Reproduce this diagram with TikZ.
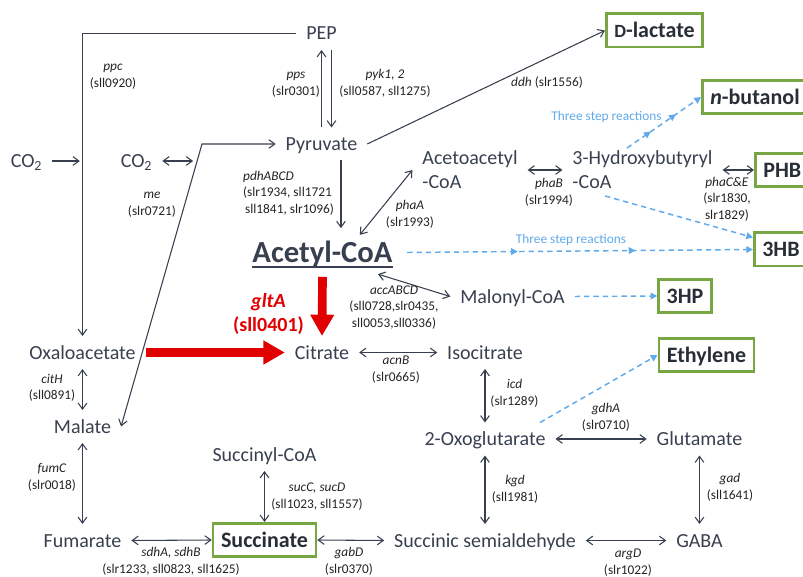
\documentclass[tikz,border=0pt]{standalone}
\usepackage{fontspec}
\setmainfont{Carlito}
\usetikzlibrary{arrows.meta,calc,decorations.markings}

\definecolor{txtgray}{RGB}{56,64,80}
\definecolor{genegray}{RGB}{35,35,35}
\definecolor{prodgray}{RGB}{40,46,56}
\definecolor{boxgreen}{RGB}{120,166,66}
\definecolor{flowblue}{RGB}{95,170,235}
\definecolor{gltred}{RGB}{225,0,0}

\newcommand{\ulinetext}[1]{\setbox0\hbox{#1}\rlap{\raisebox{-4.6pt}{\rule{\wd0}{1.5pt}}}\box0}

\tikzset{
  met/.style={text=txtgray, font=\fontsize{15}{18}\selectfont, inner sep=0pt, outer sep=7.5pt, text height=9.75pt, text depth=0pt},
  met2/.style={text=txtgray, font=\fontsize{15}{18}\selectfont, inner sep=0pt, outer sep=7.5pt, align=left},
  acetyl/.style={text=txtgray, font=\fontsize{23}{26}\selectfont\bfseries, inner sep=0pt, outer sep=11pt, text height=14.5pt, text depth=0pt},
  prod/.style={draw=boxgreen, line width=2pt, text=prodgray, font=\fontsize{16.5}{18}\selectfont\bfseries, inner xsep=6pt, inner ysep=0pt, minimum height=25pt, text height=10.6pt, text depth=0pt},
  prodcut/.style={prod, anchor=west, align=left, text width=#1},
  gene/.style={text=genegray, font=\fontsize{10}{12.5}\selectfont, align=center, inner sep=0pt},
  gltlab/.style={text=gltred, font=\fontsize{15}{18}\selectfont\bfseries, align=center, inner sep=0pt},
  steps/.style={text=flowblue, font=\fontsize{10}{12}\selectfont, inner sep=0pt},
  rxn/.style={draw=txtgray, line width=0.8pt, ->},
  rxn2/.style={draw=txtgray, line width=0.8pt, <->},
  flow/.style={draw=flowblue, line width=1.1pt, dash pattern=on 4pt off 3pt, -{Triangle[length=5pt,width=5pt]}},
  midtips/.style={postaction={decorate}, decoration={markings,
    mark=at position 0.32 with {\arrow{Triangle[length=5pt,width=5pt]}},
    mark=at position 0.66 with {\arrow{Triangle[length=5pt,width=5pt]}}}},
  bigred/.style={draw=gltred, line width=6.5pt, -{Triangle[length=16pt,width=17pt]}}
}

\begin{document}
\begin{tikzpicture}[x=0.75pt,y=-0.75pt,>={Straight Barb[length=4.5pt,width=6.5pt]}]
\useasboundingbox (0,0) rectangle (803,577);
% metabolites
\node[met] (pep) at (321.5,33.5) {PEP};
\node[met] (pyr) at (321.5,144) {Pyruvate};
\node[met] (co2a) at (26.5,161) {CO\textsubscript{2}};
\node[met] (co2b) at (136.5,161) {CO\textsubscript{2}};
\node[met2] (aca) at (470,170) {Acetoacetyl\\-CoA};
\node[met2] (hbc) at (642.5,170) {3-Hydroxybutyryl\\-CoA};
\node[acetyl] (acoa) at (322.5,252.5) {\ulinetext{Acetyl-CoA}};
\node[met] (malc) at (512.5,296.5) {Malonyl-CoA};
\node[met] (oxa) at (82.5,352.5) {Oxaloacetate};
\node[met] (cit) at (322,352.5) {Citrate};
\node[met] (iso) at (485,352.5) {Isocitrate};
\node[met] (mala) at (82.5,426.5) {Malate};
\node[met] (oxg) at (485,439) {2-Oxoglutarate};
\node[met] (glu) at (699.5,439) {Glutamate};
\node[met] (scoa) at (264.5,454.5) {Succinyl-CoA};
\node[met] (fum) at (82.5,540.5) {Fumarate};
\node[met] (ssa) at (485,540.5) {Succinic semialdehyde};
\node[met] (gaba) at (699.5,540.5) {GABA};
% products
\node[prod] (dlac) at (654.5,30.5) {{\fontsize{14}{14}\selectfont D}-lactate};
\node[prodcut=80pt] (nbut) at (701,97) {\textit{n}-butanol};
\node[prodcut=50pt] (phb) at (754,170) {PHB};
\node[prodcut=50pt] (hb3) at (753,249.5) {3HB};
\node[prod] (hp3) at (685,296) {3HP};
\node[prod] (eth) at (706.5,355) {Ethylene};
\node[prod] (suc) at (264.5,540) {Succinate};

% PEP and pyruvate
\draw[rxn] (pep.west) -| (oxa.north);
\draw[rxn,shorten >=2pt] (co2a.east) -- (co2a.east -| oxa.north);
\draw[rxn] (pyr.north) -- (pep.south);
\draw[rxn] ([xshift=7.5pt]pep.south) -- ([xshift=7.5pt]pyr.north);
\draw[rxn] (pyr.east) -- (dlac.west);
\coordinate (pdhtop) at ([xshift=14.6pt]pyr.south);
\draw[rxn] (pdhtop) -- (pdhtop |- acoa.north);
% malic enzyme
\coordinate (mecorner) at (202,144);
\coordinate (mejoin) at ($(mecorner)!0.06!(mala.east)$);
\draw[rxn2] (pyr.west) -- (mecorner) -- (mala.east);
\draw[rxn2,shorten >=3pt] (co2b.east) -- (co2b.east -| mejoin);
% acetyl-CoA branches
\draw[rxn2] ([xshift=28pt,yshift=-5pt]acoa.north) -- (aca.west);
\draw[rxn2] (aca.east) -- (hbc.west);
\draw[rxn2] (hbc.east) -- (phb.west);
\draw[rxn2] ([xshift=41.6pt,yshift=2pt]acoa.south) -- (malc.west);
\draw[flow,midtips] (acoa.east) -- (hb3.west);
\draw[flow,midtips] ([xshift=-11.6pt,yshift=-5.25pt]hbc.north) -- (nbut.west);
\draw[flow] ([xshift=-28pt,yshift=2.25pt]hbc.south) -- ([yshift=-4.5pt]hb3.north west);
\draw[flow] (malc.east) -- (hp3.west);
\draw[flow] ([xshift=-11.6pt]oxg.north east) -- (eth.west);
% TCA and GABA shunt
\draw[bigred] (acoa.south) -- (cit.north);
\draw[bigred] (oxa.east) -- (cit.west);
\draw[rxn2] (cit.east) -- (iso.west);
\draw[rxn2] (iso.south) -- (oxg.north);
\draw[rxn2] (oxg.east) -- (glu.west);
\draw[rxn2] (oxg.south) -- (ssa.north);
\draw[rxn2] (glu.south) -- (gaba.north);
\draw[rxn2] (ssa.east) -- (gaba.west);
\draw[rxn2] (suc.east) -- (ssa.west);
\draw[rxn2] (fum.east) -- (suc.west);
\draw[rxn2] (scoa.south) -- (suc.north);
\draw[rxn2] (oxa.south) -- (mala.north);
\draw[rxn2] (mala.south) -- (fum.north);

% enzyme labels
\node[gene] (ppcl) at (113,77) {\textit{ppc}\\(sll0920)};
\node[gene] (ppsl) at (296,85) {\textit{pps}\\(slr0301)};
\node[gene] (pykl) at (385,83) {\textit{pyk1, 2}\\(sll0587, sll1275)};
\node[gene] (ddhl) at (547,83) {\textit{ddh} (slr1556)};
\node[gene] (mel) at (152,205) {\textit{me}\\(slr0721)};
\node[gene,align=left] (pdhl) at (288.5,193) {\textit{pdhABCD}\\(slr1934, sll1721\\\hspace{1.5pt}sll1841, slr1096)};
\node[gene] (phaal) at (410,214) {\textit{phaA}\\(slr1993)};
\node[gene] (phabl) at (549,192) {\textit{phaB}\\(slr1994)};
\node[gene] (phacl) at (727,199) {\textit{phaC\&E}\\(slr1830,\\slr1829)};
\node[gene] (accl) at (394,307.5) {\textit{accABCD}\\(sll0728,slr0435,\\sll0053,sll0336)};
\node[gltlab] (gltl) at (268.5,314) {\textit{gltA}\\(sll0401)};
\node[gene] (acnl) at (396,369.5) {\textit{acnB}\\(slr0665)};
\node[gene] (icdl) at (514.5,393) {\textit{icd}\\(slr1289)};
\node[gene] (gdhl) at (606,417) {\textit{gdhA}\\(slr0710)};
\node[gene] (kgdl) at (515,489.5) {\textit{kgd}\\(sll1981)};
\node[gene] (gadl) at (730,487) {\textit{gad}\\(sll1641)};
\node[gene] (argl) at (628,562.5) {\textit{argD}\\(slr1022)};
\node[gene] (gabl) at (349,561) {\textit{gabD}\\(slr0370)};
\node[gene] (sdhl) at (171,561.5) {\textit{sdhA, sdhB}\\(slr1233, sll0823, sll1625)};
\node[gene] (sucl) at (317,496.5) {\textit{sucC, sucD}\\(sll1023, sll1557)};
\node[gene] (citl) at (52,388) {\textit{citH}\\(sll0891)};
\node[gene] (fuml) at (52,477.5) {\textit{fumC}\\(slr0018)};
\node[steps] (stepa) at (606.5,117) {Three step reactions};
\node[steps] (stepb) at (571,240) {Three step reactions};
\end{tikzpicture}
\end{document}
